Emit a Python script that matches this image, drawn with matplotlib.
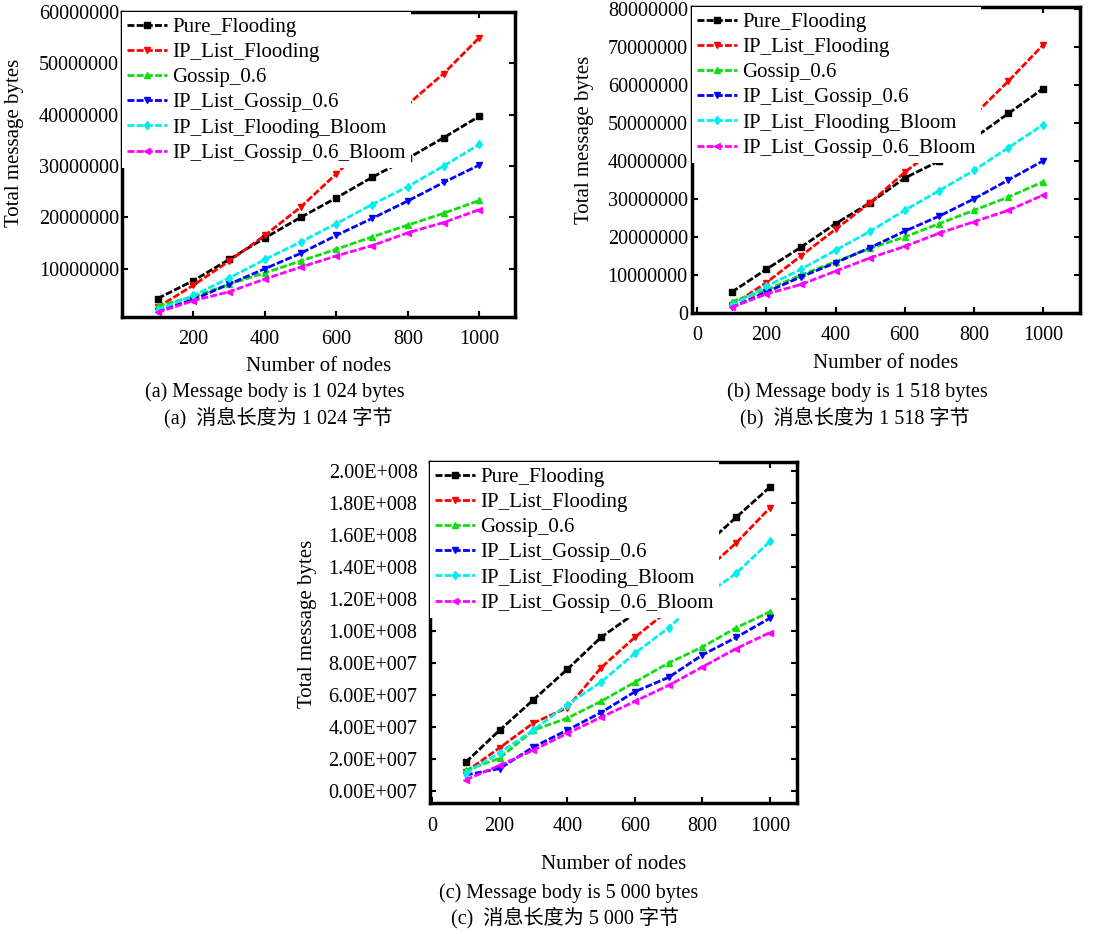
import numpy as np
import matplotlib
matplotlib.use("Agg")
import matplotlib.pyplot as plt
from matplotlib.ticker import FixedLocator, FixedFormatter

plt.rcParams['font.family'] = ['Liberation Serif', 'Noto Sans CJK SC']

# number of nodes
nodes = [100, 200, 300, 400, 500, 600, 700, 800, 900, 1000]

series_names = ["Pure_Flooding", "IP_List_Flooding", "Gossip_0.6",
                "IP_List_Gossip_0.6", "IP_List_Flooding_Bloom", "IP_List_Gossip_0.6_Bloom"]

# (a) message body 1 024 bytes
a_pure = [4.2e6, 7.7e6, 11.8e6, 16.0e6, 20.0e6, 23.8e6, 27.8e6, 31.5e6, 35.5e6, 39.7e6]
a_ipf = [2.5e6, 6.8e6, 11.5e6, 16.5e6, 22.0e6, 28.5e6, 35.0e6, 42.0e6, 48.0e6, 55.0e6]
a_gossip = [2.8e6, 4.5e6, 7.0e6, 9.2e6, 11.5e6, 13.8e6, 16.2e6, 18.5e6, 20.8e6, 23.3e6]
a_ipg = [1.8e6, 4.0e6, 7.0e6, 10.0e6, 13.0e6, 16.5e6, 19.8e6, 23.2e6, 26.8e6, 30.2e6]
a_ipfb = [2.0e6, 4.8e6, 8.2e6, 11.8e6, 15.2e6, 18.8e6, 22.5e6, 26.0e6, 30.0e6, 34.2e6]
a_ipgb = [1.5e6, 3.8e6, 5.5e6, 8.0e6, 10.3e6, 12.5e6, 14.5e6, 17.0e6, 19.0e6, 21.5e6]

# (b) message body 1 518 bytes
b_pure = [5.5e6, 11.5e6, 17.3e6, 23.5e6, 29.0e6, 35.5e6, 40.0e6, 46.0e6, 52.5e6, 59.0e6]
b_ipf = [2.0e6, 8.0e6, 15.0e6, 22.0e6, 29.0e6, 37.0e6, 44.0e6, 52.0e6, 61.0e6, 70.5e6]
b_gossip = [3.0e6, 6.0e6, 10.0e6, 13.5e6, 17.0e6, 20.0e6, 23.5e6, 27.0e6, 30.5e6, 34.5e6]
b_ipg = [1.5e6, 5.5e6, 9.5e6, 13.2e6, 17.2e6, 21.5e6, 25.5e6, 30.0e6, 35.0e6, 40.0e6]
b_ipfb = [2.0e6, 7.0e6, 11.5e6, 16.5e6, 21.5e6, 27.0e6, 32.2e6, 37.5e6, 43.5e6, 49.5e6]
b_ipgb = [1.5e6, 5.0e6, 7.5e6, 11.0e6, 14.5e6, 17.5e6, 21.0e6, 24.0e6, 27.0e6, 31.0e6]

# (c) message body 5 000 bytes
c_pure = [1.8e7, 3.8e7, 5.7e7, 7.6e7, 9.6e7, 11.1e7, 13.1e7, 15.2e7, 17.1e7, 19.0e7]
c_ipf = [1.2e7, 2.7e7, 4.25e7, 5.2e7, 7.7e7, 9.6e7, 11.3e7, 13.6e7, 15.5e7, 17.7e7]
c_gossip = [1.3e7, 2.05e7, 3.8e7, 4.55e7, 5.6e7, 6.8e7, 8.0e7, 9.0e7, 10.2e7, 11.2e7]
c_ipg = [1.0e7, 1.4e7, 2.75e7, 3.8e7, 4.9e7, 6.2e7, 7.1e7, 8.5e7, 9.6e7, 10.8e7]
c_ipfb = [1.1e7, 2.4e7, 3.8e7, 5.4e7, 6.8e7, 8.6e7, 10.2e7, 12.1e7, 13.6e7, 15.6e7]
c_ipgb = [0.7e7, 1.6e7, 2.55e7, 3.6e7, 4.6e7, 5.6e7, 6.6e7, 7.75e7, 8.9e7, 9.9e7]

c_yticks = [0, 2e7, 4e7, 6e7, 8e7, 1e8, 1.2e8, 1.4e8, 1.6e8, 1.8e8, 2e8]
c_yticklabels = ["0.00E+007", "2.00E+007", "4.00E+007", "6.00E+007", "8.00E+007",
                 "1.00E+008", "1.20E+008", "1.40E+008", "1.60E+008", "1.80E+008", "2.00E+008"]

colors = ["black", "#ff0000", "#11dd11", "#0000ff", "#00eeee", "#ff00ff"]
markers = ["s", "v", "^", "v", "d", "<"]

W, H = 1098, 934
fig = plt.figure(figsize=(W / 100, H / 100), dpi=100)


def add_ax(left, top, right, bottom):
    return fig.add_axes([left / W, 1 - bottom / H, (right - left) / W, (bottom - top) / H])


def draw(ax, data, xlim, ylim):
    for vals, name, c, m in zip(data, series_names, colors, markers):
        ax.plot(nodes, vals, color=c, marker=m, markersize=4.5, linewidth=2,
                linestyle=(0, (2.5, 0.8)), label=name)
    ax.set_xlim(*xlim)
    ax.set_ylim(*ylim)
    for s in ax.spines.values():
        s.set_linewidth(2.5)
    ax.tick_params(direction="in", top=True, right=True, length=4, width=1.5,
                   labelsize=14.5)
    ax.set_ylabel("Total message bytes", fontsize=15)
    leg = ax.legend(loc="upper left", bbox_to_anchor=(0, 1), fontsize=15,
                    frameon=True, framealpha=1, facecolor="white", edgecolor="none",
                    borderpad=0.25, borderaxespad=0, handlelength=1.9,
                    handletextpad=0.25, labelspacing=0.27, fancybox=False)
    leg.get_frame().set_linewidth(0)
    return ax


# (a)
ax1 = add_ax(122, 12, 515, 317)
draw(ax1, [a_pure, a_ipf, a_gossip, a_ipg, a_ipfb, a_ipgb], (0, 1100), (0.6e6, 60e6))
ax1.set_xticks([200, 400, 600, 800, 1000])
ax1.set_yticks([10e6, 20e6, 30e6, 40e6, 50e6, 60e6])
ax1.set_yticklabels(["10000000", "20000000", "30000000", "40000000", "50000000", "60000000"])
ax1.tick_params(axis="x", pad=9)
ax1.tick_params(axis="y", pad=2)
ax1.set_xlabel("Number of nodes", fontsize=15, labelpad=6)
ax1.yaxis.set_label_coords(-0.25, 0.57)

# (b)
ax2 = add_ax(692, 7, 1080, 313)
draw(ax2, [b_pure, b_ipf, b_gossip, b_ipg, b_ipfb, b_ipgb], (-15, 1107), (0, 80.5e6))
ax2.set_xticks([0, 200, 400, 600, 800, 1000])
ax2.set_yticks([0, 10e6, 20e6, 30e6, 40e6, 50e6, 60e6, 70e6, 80e6])
ax2.set_yticklabels(["0", "10000000", "20000000", "30000000", "40000000",
                     "50000000", "60000000", "70000000", "80000000"])
ax2.tick_params(axis="x", pad=9)
ax2.tick_params(axis="y", pad=3)
ax2.set_xlabel("Number of nodes", fontsize=15, labelpad=7)
ax2.yaxis.set_label_coords(-0.253, 0.565)

# (c)
ax3 = add_ax(430, 462, 797, 803)
draw(ax3, [c_pure, c_ipf, c_gossip, c_ipg, c_ipfb, c_ipgb], (-6, 1080), (-0.75e7, 2.056e8))
ax3.set_xticks([0, 200, 400, 600, 800, 1000])
ax3.yaxis.set_major_locator(FixedLocator(c_yticks))
ax3.yaxis.set_major_formatter(FixedFormatter(c_yticklabels))
ax3.tick_params(axis="x", pad=10)
ax3.tick_params(axis="y", pad=9)
ax3.set_xlabel("Number of nodes", fontsize=15, labelpad=14)
ax3.yaxis.set_label_coords(-0.308, 0.525)

# captions
cap = dict(ha="center", va="center", fontsize=14.5)
fig.text(275 / W, 1 - 392 / H, "(a) Message body is 1 024 bytes", **cap)
fig.text(278 / W, 1 - 418 / H, "(a)  消息长度为 1 024 字节", **cap)
fig.text(857 / W, 1 - 392 / H, "(b) Message body is 1 518 bytes", **cap)
fig.text(855 / W, 1 - 418 / H, "(b)  消息长度为 1 518 字节", **cap)
fig.text(569 / W, 1 - 893 / H, "(c) Message body is 5 000 bytes", **cap)
fig.text(565 / W, 1 - 918 / H, "(c)  消息长度为 5 000 字节", **cap)

fig.savefig("out.png", dpi=100)
